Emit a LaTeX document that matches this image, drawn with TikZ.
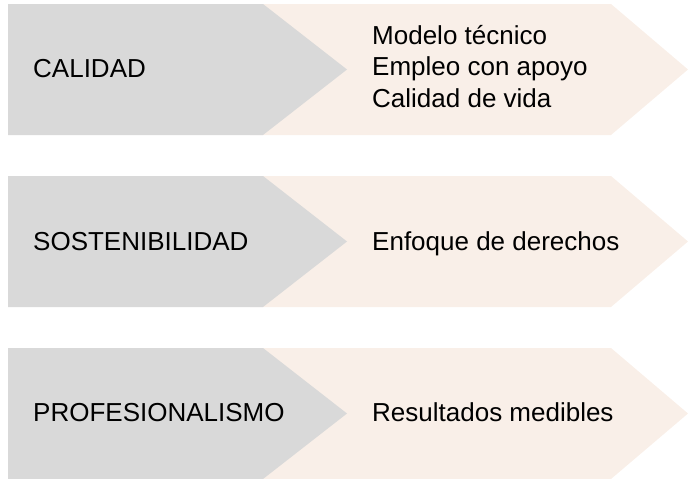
\documentclass[tikz,border=0pt]{standalone}
\usepackage{fontspec}
\setmainfont{Liberation Sans}
\usepackage{xcolor}

\definecolor{tagGrey}{RGB}{217,217,217}
\definecolor{tagBeige}{RGB}{249,239,232}

\begin{document}
\begin{tikzpicture}[x=1pt,y=-1pt,
  grey/.style={fill=tagGrey,draw=none},
  beige/.style={fill=tagBeige,draw=none},
  lbl/.style={anchor=base west,inner sep=0pt,align=left,
    font=\fontsize{26}{31.5}\selectfont}]

\useasboundingbox (0,0) rectangle (688,479);

% row 1
\fill[beige] (250,4) -- (611,4) -- (688,69.5) -- (611,135) -- (250,135) -- cycle;
\fill[grey] (8,4) -- (263,4) -- (347,69.5) -- (263,135) -- (8,135) -- cycle;
\node(a) at (33,77)[lbl] {CALIDAD};
\node(a1) at (372,107)[lbl] {Modelo técnico\\Empleo con apoyo\\Calidad de vida};

% row 2
\fill[beige] (250,176) -- (611,176) -- (688,241.5) -- (611,307) -- (250,307) -- cycle;
\fill[grey] (8,176) -- (263,176) -- (347,241.5) -- (263,307) -- (8,307) -- cycle;
\node(b) at (33,250)[lbl] {SOSTENIBILIDAD};
\node(b1) at (372,250)[lbl] {Enfoque de derechos};

% row 3
\fill[beige] (250,348) -- (611,348) -- (688,413.5) -- (611,479) -- (250,479) -- cycle;
\fill[grey] (8,348) -- (263,348) -- (347,413.5) -- (263,479) -- (8,479) -- cycle;
\node(c) at (33,421)[lbl] {PROFESIONALISMO};
\node(c1) at (372,421)[lbl] {Resultados medibles};

\end{tikzpicture}
\end{document}
